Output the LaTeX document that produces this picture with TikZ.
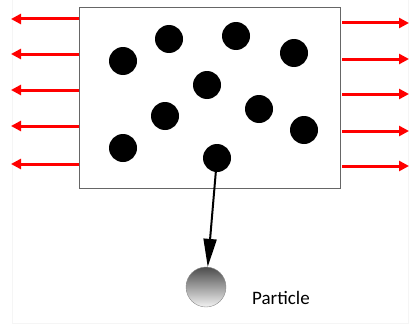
\documentclass[tikz,border=0pt]{standalone}
\usepackage{fontspec}
\setsansfont{Carlito}
\usetikzlibrary{arrows.meta}

\tikzset{
  dot/.style={circle, fill=black, inner sep=0pt, minimum size=28},
  heat/.style={red, line width=3pt, -{Triangle[length=10pt,width=10pt]}},
  fall/.style={black, line width=2pt, -{Triangle[length=28pt,width=13pt]}}
}

\begin{document}
\begin{tikzpicture}[x=1pt,y=-1pt]
                \useasboundingbox (0,0) rectangle (411,329);
                % faint frame of the picture
                \draw[black!4] (12,0) -- (12,323) -- (408,323) -- (408,0);

                % the box
                \node[draw=black!60, line width=1pt, anchor=north west,
                      minimum width=261, minimum height=181, inner sep=0pt] (box) at (79,7) {};

                % particles inside
                \node[dot] (d1) at (123,61) {};
                \node[dot] (d2) at (169,39) {};
                \node[dot] (d3) at (236,36) {};
                \node[dot] (d4) at (294,53) {};
                \node[dot] (d5) at (207,85) {};
                \node[dot] (d6) at (165,116) {};
                \node[dot] (d7) at (259,109) {};
                \node[dot] (d8) at (304,130) {};
                \node[dot] (d9) at (123,148) {};
                \node[dot] (d10) at (217,158) {};

                % arrows going out on the left
                \foreach \y in {19,54,90,126,164} {
                  \coordinate (l\y) at (11,\y);
                  \draw[heat] (box.west |- l\y) -- (l\y);
                }

                % arrows going out on the right
                \foreach \y in {23,59,94,131,166} {
                  \coordinate (r\y) at (409,\y);
                  \coordinate (s\y) at (342,\y);
                  \draw[heat] (s\y) -- (r\y);
                }

                % the particle that drops out
                \node[circle, draw=black!45, minimum size=40, inner sep=0pt,
                      top color=black!70, bottom color=black!5] (part) at (206,287) {};
                \node[font=\sffamily\fontsize{19}{22}\selectfont] (lbl) at (281,298) {Particle};

                \draw[fall] (d10.center) -- (part);
            \end{tikzpicture}
\end{document}
